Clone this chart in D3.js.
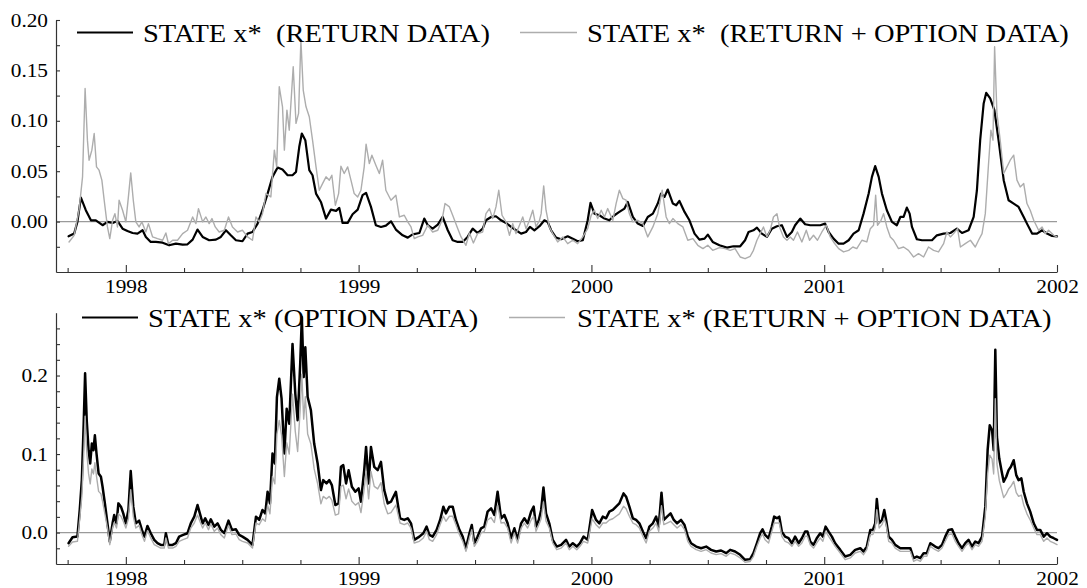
<!DOCTYPE html>
<html>
<head>
<meta charset="utf-8">
<script src="https://cdn.jsdelivr.net/npm/d3@7"></script>
<style>
  body { margin: 0; background: #fff; }
  svg { display: block; }
  text { font-family: "Liberation Serif", "Times New Roman", serif; fill: #000; }
</style>
</head>
<body>
<svg id="chart" width="1087" height="588"></svg>
<script>
// Filtered state x*, dates in decimal years.

// State x* estimated from return data
const returnDates = [
  1997.754, 1997.778, 1997.792, 1997.807, 1997.828, 1997.850, 1997.871, 1997.900, 1997.921, 1997.943,
  1997.964, 1997.986, 1998.007, 1998.029, 1998.050, 1998.072, 1998.086, 1998.107, 1998.129, 1998.158,
  1998.186, 1998.215, 1998.244, 1998.265, 1998.287, 1998.308, 1998.330, 1998.358, 1998.387, 1998.408,
  1998.430, 1998.451, 1998.473, 1998.501, 1998.523, 1998.544, 1998.566, 1998.587, 1998.609, 1998.630,
  1998.652, 1998.673, 1998.695, 1998.716, 1998.731, 1998.745, 1998.756, 1998.771, 1998.788, 1998.802,
  1998.817, 1998.838, 1998.860, 1998.881, 1998.903, 1998.917, 1998.931, 1998.953, 1998.974, 1998.996,
  1999.017, 1999.032, 1999.053, 1999.074, 1999.096, 1999.117, 1999.139, 1999.160, 1999.189, 1999.211,
  1999.232, 1999.261, 1999.282, 1999.297, 1999.318, 1999.340, 1999.361, 1999.383, 1999.404, 1999.426,
  1999.447, 1999.468, 1999.490, 1999.511, 1999.533, 1999.547, 1999.569, 1999.590, 1999.612, 1999.633,
  1999.655, 1999.676, 1999.698, 1999.719, 1999.736, 1999.755, 1999.777, 1999.798, 1999.812, 1999.827,
  1999.848, 1999.870, 1999.898, 1999.920, 1999.941, 1999.963, 1999.984, 1999.996, 2000.013, 2000.034,
  2000.056, 2000.077, 2000.099, 2000.120, 2000.142, 2000.156, 2000.178, 2000.199, 2000.221, 2000.242,
  2000.264, 2000.285, 2000.299, 2000.314, 2000.328, 2000.350, 2000.364, 2000.378, 2000.400, 2000.421,
  2000.443, 2000.464, 2000.486, 2000.500, 2000.521, 2000.550, 2000.582, 2000.610, 2000.639, 2000.660,
  2000.675, 2000.696, 2000.711, 2000.732, 2000.754, 2000.775, 2000.797, 2000.818, 2000.840, 2000.861,
  2000.875, 2000.897, 2000.918, 2000.940, 2000.961, 2000.983, 2001.004, 2001.019, 2001.040, 2001.062,
  2001.083, 2001.105, 2001.126, 2001.148, 2001.169, 2001.191, 2001.205, 2001.219, 2001.234, 2001.248,
  2001.269, 2001.291, 2001.312, 2001.327, 2001.341, 2001.355, 2001.367, 2001.377, 2001.398, 2001.420,
  2001.441, 2001.463, 2001.484, 2001.513, 2001.542, 2001.570, 2001.592, 2001.620, 2001.642, 2001.656,
  2001.670, 2001.685, 2001.696, 2001.713, 2001.731, 2001.749, 2001.771, 2001.792, 2001.814, 2001.835,
  2001.857, 2001.871, 2001.893, 2001.914, 2001.936, 2001.957, 2001.979, 2002.000
];
const returnState = [
  -0.0146, -0.0119, -0.0003, 0.0238, 0.0113, 0.0013, 0.0013, -0.0036, -0.0003, -0.0013,
  0.0007, -0.0070, -0.0093, -0.0113, -0.0119, -0.0086, -0.0152, -0.0202, -0.0202, -0.0209,
  -0.0235, -0.0219, -0.0228, -0.0225, -0.0179, -0.0079, -0.0152, -0.0185, -0.0179, -0.0152,
  -0.0086, -0.0136, -0.0185, -0.0195, -0.0119, -0.0103, -0.0020, 0.0113, 0.0278, 0.0444,
  0.0536, 0.0517, 0.0460, 0.0460, 0.0493, 0.0742, 0.0874, 0.0808, 0.0510, 0.0460,
  0.0278, 0.0195, 0.0030, 0.0119, 0.0106, 0.0136, -0.0013, -0.0013, 0.0073, 0.0119,
  0.0262, 0.0285, 0.0146, -0.0036, -0.0053, -0.0040, 0.0003, -0.0079, -0.0136, -0.0159,
  -0.0126, -0.0113, 0.0030, -0.0036, -0.0070, -0.0030, 0.0046, -0.0086, -0.0185, -0.0202,
  -0.0202, -0.0152, -0.0070, -0.0113, -0.0070, 0.0013, 0.0046, 0.0053, 0.0013, -0.0013,
  -0.0053, -0.0086, -0.0119, -0.0103, -0.0053, -0.0086, -0.0046, 0.0013, -0.0003, -0.0086,
  -0.0159, -0.0175, -0.0146, -0.0169, -0.0195, -0.0185, 0.0013, 0.0185, 0.0079, 0.0063,
  0.0030, 0.0013, 0.0063, 0.0096, 0.0129, 0.0195, 0.0046, -0.0020, -0.0043, 0.0046,
  0.0079, 0.0179, 0.0278, 0.0245, 0.0318, 0.0179, 0.0162, 0.0205, 0.0096, 0.0013,
  -0.0119, -0.0179, -0.0169, -0.0129, -0.0202, -0.0235, -0.0258, -0.0245, -0.0245, -0.0185,
  -0.0103, -0.0086, -0.0060, -0.0119, -0.0152, -0.0070, -0.0046, -0.0036, -0.0152, -0.0103,
  -0.0036, 0.0030, -0.0026, -0.0036, -0.0036, -0.0036, -0.0020, -0.0103, -0.0169, -0.0219,
  -0.0219, -0.0185, -0.0119, -0.0086, 0.0079, 0.0278, 0.0444, 0.0550, 0.0444, 0.0278,
  0.0113, -0.0003, -0.0036, 0.0046, 0.0046, 0.0139, 0.0079, -0.0053, -0.0175, -0.0185,
  -0.0185, -0.0185, -0.0136, -0.0119, -0.0113, -0.0070, -0.0113, -0.0086, 0.0046, 0.0311,
  0.0808, 0.1172, 0.1278, 0.1222, 0.1106, 0.0808, 0.0411, 0.0212, 0.0179, 0.0146,
  0.0046, -0.0020, -0.0119, -0.0119, -0.0086, -0.0119, -0.0142, -0.0146
];

// State x* estimated from option data
const optionDates = [
  1997.754, 1997.771, 1997.792, 1997.802, 1997.811, 1997.819, 1997.825, 1997.832, 1997.840, 1997.847,
  1997.854, 1997.861, 1997.867, 1997.874, 1997.883, 1997.893, 1997.900, 1997.910, 1997.921, 1997.931,
  1997.943, 1997.950, 1997.960, 1997.968, 1997.979, 1997.989, 1998.000, 1998.011, 1998.021, 1998.032,
  1998.043, 1998.057, 1998.069, 1998.080, 1998.093, 1998.107, 1998.122, 1998.136, 1998.150, 1998.165,
  1998.172, 1998.183, 1998.201, 1998.215, 1998.229, 1998.246, 1998.265, 1998.279, 1998.294, 1998.308,
  1998.318, 1998.330, 1998.341, 1998.355, 1998.365, 1998.380, 1998.394, 1998.408, 1998.423, 1998.441,
  1998.456, 1998.473, 1998.487, 1998.501, 1998.523, 1998.544, 1998.559, 1998.573, 1998.587, 1998.599,
  1998.609, 1998.619, 1998.630, 1998.640, 1998.649, 1998.659, 1998.669, 1998.681, 1998.691, 1998.702,
  1998.716, 1998.728, 1998.738, 1998.749, 1998.756, 1998.764, 1998.771, 1998.781, 1998.795, 1998.809,
  1998.824, 1998.838, 1998.848, 1998.862, 1998.874, 1998.885, 1998.900, 1998.914, 1998.924, 1998.934,
  1998.946, 1998.957, 1998.971, 1998.986, 1999.000, 1999.010, 1999.024, 1999.032, 1999.043, 1999.053,
  1999.067, 1999.082, 1999.096, 1999.110, 1999.125, 1999.139, 1999.160, 1999.178, 1999.196, 1999.211,
  1999.225, 1999.239, 1999.261, 1999.278, 1999.292, 1999.304, 1999.318, 1999.335, 1999.350, 1999.364,
  1999.375, 1999.390, 1999.404, 1999.418, 1999.433, 1999.447, 1999.461, 1999.476, 1999.486, 1999.497,
  1999.511, 1999.526, 1999.540, 1999.554, 1999.569, 1999.583, 1999.597, 1999.612, 1999.626, 1999.640,
  1999.655, 1999.669, 1999.683, 1999.698, 1999.712, 1999.726, 1999.741, 1999.752, 1999.762, 1999.774,
  1999.784, 1999.794, 1999.805, 1999.819, 1999.834, 1999.851, 1999.870, 1999.891, 1999.905, 1999.920,
  1999.937, 1999.951, 1999.966, 1999.984, 2000.003, 2000.020, 2000.034, 2000.049, 2000.063, 2000.077,
  2000.092, 2000.106, 2000.120, 2000.138, 2000.149, 2000.163, 2000.178, 2000.192, 2000.206, 2000.221,
  2000.235, 2000.249, 2000.264, 2000.278, 2000.289, 2000.301, 2000.311, 2000.325, 2000.340, 2000.354,
  2000.368, 2000.385, 2000.400, 2000.414, 2000.428, 2000.450, 2000.471, 2000.493, 2000.514, 2000.536,
  2000.557, 2000.579, 2000.596, 2000.617, 2000.639, 2000.660, 2000.682, 2000.696, 2000.711, 2000.725,
  2000.735, 2000.746, 2000.761, 2000.775, 2000.785, 2000.797, 2000.807, 2000.818, 2000.832, 2000.847,
  2000.861, 2000.875, 2000.890, 2000.904, 2000.918, 2000.928, 2000.940, 2000.954, 2000.968, 2000.983,
  2000.994, 2001.006, 2001.019, 2001.033, 2001.047, 2001.069, 2001.090, 2001.112, 2001.133, 2001.155,
  2001.169, 2001.183, 2001.198, 2001.209, 2001.219, 2001.226, 2001.236, 2001.248, 2001.258, 2001.266,
  2001.277, 2001.291, 2001.305, 2001.327, 2001.348, 2001.370, 2001.384, 2001.398, 2001.413, 2001.427,
  2001.441, 2001.456, 2001.477, 2001.491, 2001.506, 2001.520, 2001.534, 2001.549, 2001.563, 2001.577,
  2001.592, 2001.606, 2001.620, 2001.635, 2001.649, 2001.663, 2001.678, 2001.692, 2001.702, 2001.711,
  2001.721, 2001.728, 2001.735, 2001.742, 2001.752, 2001.764, 2001.771, 2001.782, 2001.792, 2001.802,
  2001.814, 2001.825, 2001.835, 2001.847, 2001.857, 2001.871, 2001.885, 2001.900, 2001.914, 2001.928,
  2001.943, 2001.957, 2001.971, 2001.986, 2002.000
];
const optionState = [
  -0.0135, -0.0059, -0.0051, 0.0288, 0.0668, 0.1387, 0.2030, 0.1430, 0.1049, 0.0880,
  0.1134, 0.1049, 0.1239, 0.1007, 0.0753, 0.0711, 0.0584, 0.0372, 0.0118, -0.0114,
  0.0118, 0.0224, 0.0118, 0.0372, 0.0330, 0.0245, 0.0118, 0.0288, 0.0783, 0.0330,
  0.0118, 0.0152, 0.0034, -0.0051, 0.0085, -0.0008, -0.0093, -0.0135, -0.0157, -0.0157,
  -0.0008, -0.0157, -0.0157, -0.0135, -0.0051, -0.0030, -0.0008, 0.0118, 0.0203, 0.0351,
  0.0245, 0.0118, 0.0182, 0.0097, 0.0169, 0.0076, 0.0118, 0.0034, -0.0008, 0.0152,
  0.0034, 0.0042, -0.0030, -0.0051, -0.0093, -0.0157, 0.0203, 0.0161, 0.0288, 0.0245,
  0.0520, 0.0372, 0.1007, 0.0880, 0.1726, 0.1959, 0.1705, 0.1007, 0.1578, 0.1387,
  0.2403, 0.1768, 0.1430, 0.2149, 0.2741, 0.1980, 0.2360, 0.1726, 0.1557, 0.1134,
  0.0880, 0.0541, 0.0668, 0.0626, 0.0668, 0.0605, 0.0351, 0.0372, 0.0838, 0.0859,
  0.0626, 0.0795, 0.0584, 0.0520, 0.0563, 0.0393, 0.0795, 0.1091, 0.0626, 0.1091,
  0.0838, 0.0795, 0.0901, 0.0541, 0.0372, 0.0393, 0.0520, 0.0182, 0.0161, 0.0182,
  0.0118, -0.0093, -0.0051, -0.0008, 0.0076, -0.0030, -0.0051, 0.0034, 0.0161, 0.0330,
  0.0245, 0.0330, 0.0330, 0.0161, 0.0034, -0.0051, -0.0199, -0.0008, 0.0097, -0.0135,
  -0.0051, 0.0055, 0.0076, 0.0267, 0.0309, 0.0224, 0.0520, 0.0182, 0.0224, 0.0118,
  -0.0072, 0.0055, -0.0093, 0.0118, 0.0182, 0.0118, 0.0267, 0.0330, 0.0076, 0.0161,
  0.0288, 0.0575, 0.0245, 0.0118, -0.0093, -0.0178, -0.0157, -0.0093, -0.0178, -0.0135,
  -0.0178, -0.0135, -0.0051, -0.0093, 0.0288, 0.0161, 0.0118, 0.0203, 0.0182, 0.0267,
  0.0288, 0.0330, 0.0372, 0.0499, 0.0457, 0.0330, 0.0182, 0.0161, 0.0118, 0.0013,
  -0.0072, 0.0076, 0.0118, 0.0203, 0.0076, 0.0508, 0.0161, 0.0203, 0.0245, 0.0161,
  0.0118, 0.0161, 0.0097, -0.0051, -0.0135, -0.0178, -0.0199, -0.0178, -0.0220, -0.0241,
  -0.0228, -0.0262, -0.0220, -0.0241, -0.0283, -0.0347, -0.0338, -0.0262, -0.0135, -0.0008,
  0.0042, -0.0030, -0.0072, 0.0076, 0.0203, 0.0182, 0.0203, 0.0013, -0.0051, -0.0072,
  -0.0135, -0.0051, -0.0135, -0.0072, 0.0013, 0.0013, -0.0114, -0.0157, -0.0072, -0.0008,
  -0.0051, 0.0076, 0.0013, -0.0051, -0.0135, -0.0220, -0.0305, -0.0283, -0.0220, -0.0199,
  -0.0241, -0.0178, 0.0034, 0.0034, 0.0118, 0.0427, 0.0118, 0.0161, 0.0288, 0.0161,
  -0.0051, -0.0093, -0.0157, -0.0199, -0.0199, -0.0199, -0.0326, -0.0305, -0.0326, -0.0262,
  -0.0262, -0.0135, -0.0178, -0.0199, -0.0157, -0.0051, 0.0034, 0.0042, -0.0051, -0.0135,
  -0.0199, -0.0135, -0.0093, -0.0178, -0.0114, -0.0135, -0.0051, 0.0330, 0.1049, 0.1366,
  0.1303, 0.1049, 0.2327, 0.1218, 0.0943, 0.0753, 0.0647, 0.0711, 0.0795, 0.0838,
  0.0922, 0.0732, 0.0668, 0.0690, 0.0520, 0.0372, 0.0267, 0.0118, 0.0034, 0.0034,
  -0.0051, -0.0008, -0.0051, -0.0072, -0.0093
];

// Joint (return + option) state as plotted in the lower panel, on the option-data dates
const jointStateLower = [
  -0.0175, -0.0119, -0.0111, 0.0176, 0.0461, 0.1000, 0.1483, 0.1033, 0.0747, 0.0620,
  0.0811, 0.0747, 0.0889, 0.0715, 0.0525, 0.0493, 0.0398, 0.0239, 0.0058, -0.0154,
  0.0058, 0.0128, 0.0058, 0.0239, 0.0208, 0.0144, 0.0058, 0.0176, 0.0547, 0.0208,
  0.0058, 0.0092, -0.0026, -0.0111, 0.0025, -0.0068, -0.0153, -0.0175, -0.0197, -0.0197,
  -0.0068, -0.0197, -0.0197, -0.0175, -0.0111, -0.0090, -0.0068, 0.0058, 0.0122, 0.0223,
  0.0144, 0.0058, 0.0122, 0.0037, 0.0109, 0.0016, 0.0058, -0.0026, -0.0068, 0.0092,
  -0.0026, -0.0018, -0.0090, -0.0111, -0.0133, -0.0197, 0.0122, 0.0101, 0.0176, 0.0144,
  0.0350, 0.0239, 0.0715, 0.0620, 0.1255, 0.1429, 0.1239, 0.0715, 0.1144, 0.1000,
  0.1762, 0.1286, 0.1033, 0.1572, 0.2016, 0.1445, 0.1730, 0.1255, 0.1128, 0.0811,
  0.0620, 0.0366, 0.0461, 0.0430, 0.0461, 0.0414, 0.0223, 0.0239, 0.0589, 0.0604,
  0.0430, 0.0556, 0.0398, 0.0350, 0.0382, 0.0255, 0.0556, 0.0778, 0.0430, 0.0778,
  0.0589, 0.0556, 0.0636, 0.0366, 0.0239, 0.0255, 0.0350, 0.0122, 0.0101, 0.0122,
  0.0058, -0.0133, -0.0111, -0.0068, 0.0016, -0.0090, -0.0111, -0.0026, 0.0101, 0.0208,
  0.0144, 0.0208, 0.0208, 0.0101, -0.0026, -0.0111, -0.0239, -0.0068, 0.0037, -0.0175,
  -0.0111, -0.0005, 0.0016, 0.0160, 0.0192, 0.0128, 0.0350, 0.0122, 0.0128, 0.0058,
  -0.0132, -0.0005, -0.0133, 0.0058, 0.0122, 0.0058, 0.0160, 0.0208, 0.0016, 0.0101,
  0.0176, 0.0391, 0.0144, 0.0058, -0.0133, -0.0218, -0.0197, -0.0133, -0.0218, -0.0175,
  -0.0218, -0.0175, -0.0111, -0.0133, 0.0176, 0.0101, 0.0058, 0.0122, 0.0122, 0.0160,
  0.0176, 0.0208, 0.0239, 0.0334, 0.0303, 0.0208, 0.0122, 0.0101, 0.0058, -0.0047,
  -0.0132, 0.0016, 0.0058, 0.0122, 0.0016, 0.0341, 0.0101, 0.0122, 0.0144, 0.0101,
  0.0058, 0.0101, 0.0037, -0.0111, -0.0175, -0.0218, -0.0239, -0.0218, -0.0260, -0.0281,
  -0.0268, -0.0302, -0.0260, -0.0281, -0.0323, -0.0377, -0.0368, -0.0302, -0.0175, -0.0068,
  -0.0018, -0.0090, -0.0132, 0.0016, 0.0122, 0.0122, 0.0122, -0.0047, -0.0111, -0.0132,
  -0.0175, -0.0111, -0.0175, -0.0132, -0.0047, -0.0047, -0.0154, -0.0197, -0.0132, -0.0068,
  -0.0111, 0.0016, -0.0047, -0.0111, -0.0175, -0.0260, -0.0345, -0.0323, -0.0260, -0.0239,
  -0.0281, -0.0218, -0.0026, -0.0026, 0.0058, 0.0290, 0.0058, 0.0101, 0.0176, 0.0101,
  -0.0111, -0.0133, -0.0197, -0.0239, -0.0239, -0.0239, -0.0366, -0.0345, -0.0366, -0.0302,
  -0.0302, -0.0175, -0.0218, -0.0239, -0.0197, -0.0111, -0.0026, -0.0018, -0.0111, -0.0175,
  -0.0239, -0.0175, -0.0133, -0.0218, -0.0154, -0.0175, -0.0111, 0.0208, 0.0747, 0.0985,
  0.0937, 0.0747, 0.1705, 0.0874, 0.0667, 0.0525, 0.0445, 0.0493, 0.0556, 0.0589,
  0.0652, 0.0509, 0.0461, 0.0478, 0.0350, 0.0239, 0.0160, 0.0058, -0.0026, -0.0026,
  -0.0111, -0.0068, -0.0111, -0.0132, -0.0153
];

// State x* estimated from return and option data jointly
const jointDates = [
  1997.756, 1997.778, 1997.799, 1997.814, 1997.825, 1997.835, 1997.842, 1997.854, 1997.864, 1997.874,
  1997.885, 1997.897, 1997.907, 1997.921, 1997.931, 1997.943, 1997.953, 1997.964, 1997.971, 1997.986,
  1998.000, 1998.011, 1998.021, 1998.032, 1998.043, 1998.057, 1998.069, 1998.086, 1998.097, 1998.115,
  1998.136, 1998.158, 1998.172, 1998.183, 1998.201, 1998.222, 1998.244, 1998.265, 1998.287, 1998.301,
  1998.312, 1998.330, 1998.344, 1998.358, 1998.370, 1998.384, 1998.401, 1998.423, 1998.441, 1998.458,
  1998.480, 1998.501, 1998.523, 1998.544, 1998.559, 1998.573, 1998.587, 1998.602, 1998.623, 1998.638,
  1998.648, 1998.659, 1998.673, 1998.681, 1998.692, 1998.702, 1998.719, 1998.731, 1998.742, 1998.752,
  1998.762, 1998.774, 1998.788, 1998.802, 1998.817, 1998.831, 1998.845, 1998.860, 1998.874, 1998.885,
  1998.900, 1998.914, 1998.924, 1998.938, 1998.953, 1998.967, 1998.981, 1998.996, 1999.010, 1999.024,
  1999.032, 1999.046, 1999.057, 1999.074, 1999.089, 1999.103, 1999.117, 1999.139, 1999.160, 1999.175,
  1999.196, 1999.211, 1999.225, 1999.239, 1999.254, 1999.275, 1999.297, 1999.318, 1999.340, 1999.358,
  1999.371, 1999.390, 1999.404, 1999.426, 1999.440, 1999.461, 1999.476, 1999.493, 1999.511, 1999.533,
  1999.547, 1999.562, 1999.576, 1999.590, 1999.602, 1999.616, 1999.633, 1999.648, 1999.662, 1999.676,
  1999.691, 1999.705, 1999.719, 1999.734, 1999.748, 1999.762, 1999.777, 1999.784, 1999.795, 1999.805,
  1999.819, 1999.834, 1999.855, 1999.877, 1999.898, 1999.920, 1999.941, 1999.963, 1999.984, 1999.999,
  2000.013, 2000.027, 2000.042, 2000.056, 2000.070, 2000.092, 2000.106, 2000.120, 2000.135, 2000.149,
  2000.163, 2000.178, 2000.199, 2000.221, 2000.242, 2000.264, 2000.285, 2000.304, 2000.321, 2000.335,
  2000.350, 2000.371, 2000.393, 2000.414, 2000.436, 2000.457, 2000.479, 2000.500, 2000.521, 2000.550,
  2000.574, 2000.596, 2000.617, 2000.639, 2000.660, 2000.682, 2000.696, 2000.711, 2000.725, 2000.739,
  2000.754, 2000.768, 2000.782, 2000.797, 2000.808, 2000.825, 2000.840, 2000.854, 2000.868, 2000.885,
  2000.904, 2000.923, 2000.937, 2000.954, 2000.971, 2000.990, 2001.009, 2001.026, 2001.040, 2001.062,
  2001.083, 2001.105, 2001.123, 2001.140, 2001.162, 2001.183, 2001.198, 2001.212, 2001.221, 2001.229,
  2001.244, 2001.255, 2001.269, 2001.284, 2001.298, 2001.319, 2001.341, 2001.362, 2001.384, 2001.405,
  2001.427, 2001.448, 2001.470, 2001.491, 2001.513, 2001.527, 2001.542, 2001.556, 2001.573, 2001.585,
  2001.606, 2001.628, 2001.649, 2001.663, 2001.678, 2001.692, 2001.706, 2001.716, 2001.725, 2001.732,
  2001.742, 2001.756, 2001.771, 2001.785, 2001.799, 2001.814, 2001.828, 2001.842, 2001.857, 2001.871,
  2001.885, 2001.900, 2001.921, 2001.936, 2001.950, 2001.964, 2001.986, 2002.000
];
const jointState = [
  -0.0202, -0.0136, 0.0113, 0.0444, 0.1321, 0.0808, 0.0609, 0.0709, 0.0874, 0.0543,
  0.0510, 0.0411, 0.0212, -0.0053, -0.0169, 0.0013, 0.0079, -0.0053, 0.0212, 0.0113,
  -0.0003, 0.0245, 0.0483, 0.0212, -0.0003, -0.0053, -0.0003, -0.0103, -0.0020, -0.0152,
  -0.0169, -0.0185, -0.0113, -0.0219, -0.0185, -0.0185, -0.0119, -0.0086, 0.0046, -0.0020,
  0.0129, -0.0003, 0.0046, -0.0020, 0.0030, -0.0053, -0.0103, -0.0086, 0.0046, -0.0053,
  -0.0103, -0.0086, -0.0152, -0.0185, 0.0046, -0.0003, 0.0079, 0.0278, 0.0245, 0.0709,
  0.0543, 0.1338, 0.1139, 0.0709, 0.1106, 0.0907, 0.1536, 0.0974, 0.1073, 0.1801,
  0.1305, 0.1139, 0.1040, 0.0808, 0.0543, 0.0311, 0.0377, 0.0444, 0.0411, 0.0460,
  0.0162, 0.0278, 0.0550, 0.0477, 0.0543, 0.0411, 0.0278, 0.0245, 0.0311, 0.0543,
  0.0768, 0.0576, 0.0659, 0.0560, 0.0477, 0.0609, 0.0311, 0.0212, 0.0262, 0.0046,
  0.0063, -0.0003, -0.0053, -0.0169, -0.0152, -0.0136, -0.0036, -0.0103, -0.0086, 0.0013,
  0.0179, 0.0146, 0.0063, -0.0070, -0.0152, -0.0235, -0.0113, -0.0212, -0.0119, -0.0103,
  0.0079, 0.0129, 0.0030, 0.0146, 0.0311, 0.0063, -0.0003, -0.0136, -0.0020, -0.0119,
  -0.0036, 0.0046, -0.0070, 0.0013, 0.0113, -0.0053, 0.0013, 0.0079, 0.0354, 0.0113,
  -0.0053, -0.0119, -0.0202, -0.0152, -0.0219, -0.0185, -0.0219, -0.0152, -0.0070, 0.0063,
  0.0113, 0.0030, 0.0113, 0.0046, 0.0129, 0.0013, 0.0179, 0.0311, 0.0228, 0.0212,
  0.0079, -0.0003, 0.0013, -0.0020, -0.0152, -0.0053, 0.0079, 0.0311, 0.0046, -0.0020,
  0.0030, -0.0020, -0.0053, -0.0185, -0.0169, -0.0235, -0.0268, -0.0235, -0.0285, -0.0258,
  -0.0268, -0.0285, -0.0268, -0.0351, -0.0368, -0.0344, -0.0285, -0.0185, -0.0119, -0.0053,
  -0.0152, -0.0086, 0.0046, 0.0079, -0.0053, -0.0152, -0.0185, -0.0152, -0.0185, -0.0103,
  -0.0202, -0.0086, -0.0185, -0.0136, -0.0185, -0.0103, -0.0036, -0.0152, -0.0202, -0.0268,
  -0.0301, -0.0285, -0.0252, -0.0268, -0.0185, -0.0202, -0.0070, -0.0036, 0.0262, -0.0036,
  0.0013, 0.0079, -0.0053, -0.0152, -0.0185, -0.0268, -0.0252, -0.0285, -0.0351, -0.0318,
  -0.0351, -0.0252, -0.0285, -0.0301, -0.0219, -0.0103, -0.0152, -0.0119, -0.0070, -0.0252,
  -0.0219, -0.0185, -0.0252, -0.0185, -0.0119, 0.0079, 0.0576, 0.0907, 0.0808, 0.1735,
  0.1073, 0.0808, 0.0477, 0.0543, 0.0609, 0.0659, 0.0411, 0.0344, 0.0377, 0.0179,
  0.0113, 0.0013, -0.0086, -0.0053, -0.0119, -0.0086, -0.0136, -0.0152
];

// Axis ticks
const quarterTicks = [1997.75, 1998.25, 1998.5, 1998.75, 1999.25, 1999.5, 1999.75,
                      2000.25, 2000.5, 2000.75, 2001.25, 2001.5, 2001.75];
const yearTicks = [1998, 1999, 2000, 2001, 2002];
const topMajorTicks = [0, 0.05, 0.10, 0.15, 0.20];
const topMinorTicks = [-0.025, 0.025, 0.075, 0.125, 0.175];
const bottomMajorTicks = [0, 0.1, 0.2];
const bottomMinorTicks = [-0.02, 0.02, 0.04, 0.06, 0.08, 0.12, 0.14, 0.16, 0.18, 0.22, 0.24, 0.26];

const legendReturn = "STATE x*  (RETURN DATA)";
const legendJointTop = "STATE x*  (RETURN + OPTION DATA)";
const legendOption = "STATE x* (OPTION DATA)";
const legendJointBottom = "STATE x* (RETURN + OPTION DATA)";

const BLACK = "#000";
const GREY = "#adadad";
const AXIS = "#333";
const TEXT_STRETCH = 1.12;

const svg = d3.select("#chart");
const x = d3.scaleLinear().domain([1997.7, 2002]).range([56, 1057]);

// Horizontal stretch applied to text runs (wide serif face).
function stretch(sel, k) {
  sel.each(function () {
    const w = this.getComputedTextLength();
    d3.select(this).attr("textLength", w * k).attr("lengthAdjust", "spacingAndGlyphs");
  });
}

const panels = [
  {
    top: 20, bottom: 272, domain: [-0.05, 0.20],
    major: topMajorTicks, minor: topMinorTicks, fmt: d3.format(".2f"),
    series: [
      { dates: returnDates, values: returnState, color: BLACK, width: 2.2 },
      { dates: jointDates, values: jointState, color: GREY, width: 1.4 }
    ],
    legend: [
      { x1: 77, x2: 133, tx: 143, label: legendReturn, color: BLACK, width: 2.2 },
      { x1: 520, x2: 577, tx: 587, label: legendJointTop, color: GREY, width: 1.4 }
    ],
    legendY: 32.5, legendBase: 41.5
  },
  {
    top: 312.7, bottom: 564, domain: [-0.04, 0.28],
    major: bottomMajorTicks, minor: bottomMinorTicks, fmt: d3.format(".1f"),
    series: [
      { dates: optionDates, values: optionState, color: BLACK, width: 2.5 },
      { dates: optionDates, values: jointStateLower, color: GREY, width: 1.4 }
    ],
    legend: [
      { x1: 82, x2: 138, tx: 148, label: legendOption, color: BLACK, width: 2.2 },
      { x1: 509, x2: 565, tx: 577, label: legendJointBottom, color: GREY, width: 1.4 }
    ],
    legendY: 317.5, legendBase: 326.5
  }
];

panels.forEach(p => {
  const y = d3.scaleLinear().domain(p.domain).range([p.bottom, p.top]);
  const g = svg.append("g");

  // zero reference line
  g.append("line")
    .attr("x1", x.range()[0]).attr("x2", x.range()[1])
    .attr("y1", y(0)).attr("y2", y(0))
    .attr("stroke", "#9a9a9a").attr("stroke-width", 1.2);

  // series
  const line = d3.line().x(d => x(d[0])).y(d => y(d[1]));
  p.series.forEach(s => {
    g.append("path")
      .datum(d3.zip(s.dates, s.values))
      .attr("d", line)
      .attr("fill", "none")
      .attr("stroke", s.color)
      .attr("stroke-width", s.width)
      .attr("stroke-linejoin", "round")
      .attr("stroke-linecap", "round");
  });

  // y axis: labelled major ticks and unlabelled minor ticks, pointing inward
  const yMajor = g.append("g").attr("transform", `translate(${x.range()[0]},0)`)
    .call(d3.axisLeft(y).tickValues(p.major).tickFormat(p.fmt)
      .tickSizeInner(-4).tickSizeOuter(0).tickPadding(8));
  g.append("g").attr("transform", `translate(${x.range()[0]},0)`)
    .call(d3.axisLeft(y).tickValues(p.minor).tickFormat("")
      .tickSizeInner(-4).tickSizeOuter(0))
    .select(".domain").remove();

  // x axis: quarter ticks and labelled year ticks
  g.append("g").attr("transform", `translate(0,${p.bottom})`)
    .call(d3.axisBottom(x).tickValues(quarterTicks).tickFormat("")
      .tickSizeInner(-4).tickSizeOuter(0));
  const xy = g.append("g").attr("transform", `translate(0,${p.bottom})`)
    .call(d3.axisBottom(x).tickValues(yearTicks).tickFormat(d3.format("d"))
      .tickSizeInner(-7).tickSizeOuter(0).tickPadding(8));
  xy.select(".domain").remove();

  g.selectAll(".domain").attr("stroke", AXIS).attr("stroke-width", 1.2);
  g.selectAll(".tick line").attr("stroke", AXIS).attr("stroke-width", 1.1);
  g.selectAll(".tick text")
    .attr("font-family", '"Liberation Serif", "Times New Roman", serif')
    .attr("font-size", 19).attr("fill", "#000");
  stretch(yMajor.selectAll(".tick text"), TEXT_STRETCH);
  stretch(xy.selectAll(".tick text"), TEXT_STRETCH);

  // legend
  p.legend.forEach(l => {
    g.append("line")
      .attr("x1", l.x1).attr("x2", l.x2)
      .attr("y1", p.legendY).attr("y2", p.legendY)
      .attr("stroke", l.color).attr("stroke-width", l.width);
    const t = g.append("text")
      .attr("x", l.tx).attr("y", p.legendBase)
      .attr("xml:space", "preserve")
      .style("white-space", "pre")
      .attr("font-size", 25)
      .text(l.label);
    stretch(t, 1.14);
  });
});
</script>
</body>
</html>
